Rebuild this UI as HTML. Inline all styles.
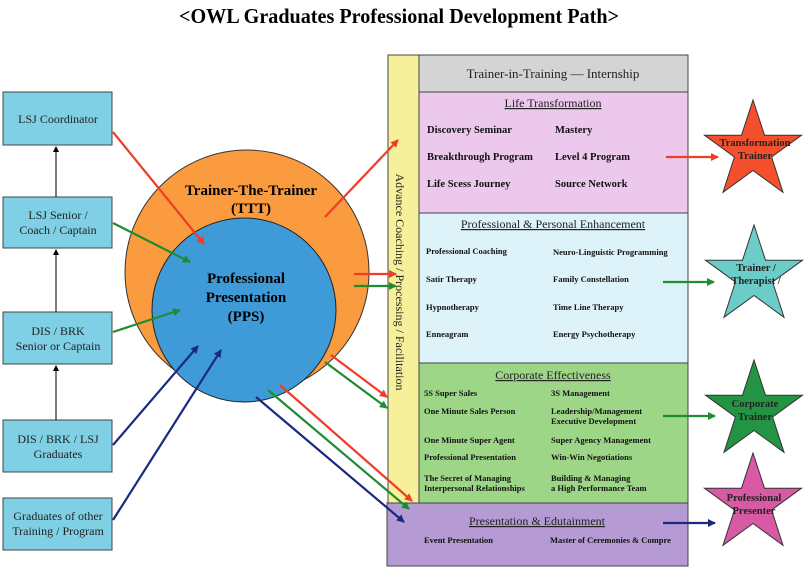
<!DOCTYPE html>
<html><head><meta charset="utf-8"><style>
body{margin:0;background:#fff;}
svg{display:block;font-family:"Liberation Serif",serif;}
.b{font-weight:bold;font-size:10.5px;fill:#111}
.s{font-weight:bold;font-size:8.5px;fill:#111}
.h{font-size:12px;fill:#222;text-decoration:underline}
</style></head><body>
<svg width="810" height="581" viewBox="0 0 810 581" xmlns="http://www.w3.org/2000/svg">
<defs>
<marker id="mr" markerWidth="8" markerHeight="8" refX="7" refY="4" orient="auto" markerUnits="userSpaceOnUse"><path d="M0,0L8,4L0,8z" fill="#f03c28"/></marker>
<marker id="mg" markerWidth="8" markerHeight="8" refX="7" refY="4" orient="auto" markerUnits="userSpaceOnUse"><path d="M0,0L8,4L0,8z" fill="#1e8c32"/></marker>
<marker id="mb" markerWidth="8" markerHeight="8" refX="7" refY="4" orient="auto" markerUnits="userSpaceOnUse"><path d="M0,0L8,4L0,8z" fill="#1a2a80"/></marker>
<marker id="mk" markerWidth="6" markerHeight="6" refX="5" refY="3" orient="auto" markerUnits="userSpaceOnUse"><path d="M0,0L6,3L0,6z" fill="#000"/></marker>
</defs>
<text x="399" y="23" text-anchor="middle" font-weight="bold" font-size="21" textLength="440" lengthAdjust="spacingAndGlyphs">&lt;OWL Graduates Professional Development Path&gt;</text>

<rect x="388" y="55" width="31" height="448" fill="#f7f09a" stroke="#444"/>
<rect x="419" y="55" width="269" height="37" fill="#d4d4d4" stroke="#444"/>
<rect x="419" y="92" width="269" height="121" fill="#ecc8ec" stroke="#444"/>
<rect x="419" y="213" width="269" height="150" fill="#def2fa" stroke="#444"/>
<rect x="419" y="363" width="269" height="140" fill="#9ed688" stroke="#444"/>
<rect x="387" y="503" width="301" height="63" fill="#b59ad4" stroke="#444"/>
<text transform="translate(396,282) rotate(90)" text-anchor="middle" font-size="12" fill="#222">Advance Coaching / Processing / Facilitation</text>
<text x="553" y="78" text-anchor="middle" font-size="13" fill="#222">Trainer-in-Training  —  Internship</text>
<text x="553" y="107" text-anchor="middle" class="h">Life Transformation</text>
<text x="427" y="133" class="b">Discovery Seminar</text><text x="555" y="133" class="b">Mastery</text>
<text x="427" y="160" class="b">Breakthrough Program</text><text x="555" y="160" class="b">Level 4 Program</text>
<text x="427" y="187" class="b">Life Scess Journey</text><text x="555" y="187" class="b">Source Network</text>
<text x="553" y="228" text-anchor="middle" class="h">Professional &amp; Personal Enhancement</text>
<text x="426" y="254" class="s">Professional Coaching</text><text x="553" y="255" class="s">Neuro-Linguistic Programming</text>
<text x="426" y="282" class="s">Satir Therapy</text><text x="553" y="282" class="s">Family Constellation</text>
<text x="426" y="310" class="s">Hypnotherapy</text><text x="553" y="310" class="s">Time Line Therapy</text>
<text x="426" y="337" class="s">Enneagram</text><text x="553" y="337" class="s">Energy Psychotherapy</text>
<text x="553" y="379" text-anchor="middle" class="h">Corporate Effectiveness</text>
<text x="424" y="396" class="s">5S Super Sales</text><text x="551" y="396" class="s">3S Management</text>
<text x="424" y="414" class="s">One Minute Sales Person</text><text x="551" y="414" class="s">Leadership/Management</text><text x="551" y="424" class="s">Executive Development</text>
<text x="424" y="443" class="s">One Minute Super Agent</text><text x="551" y="443" class="s">Super Agency Management</text>
<text x="424" y="460" class="s">Professional Presentation</text><text x="551" y="460" class="s">Win-Win Negotiations</text>
<text x="424" y="481" class="s">The Secret of Managing</text><text x="551" y="481" class="s">Building &amp; Managing</text>
<text x="424" y="491" class="s">Interpersonal Relationships</text><text x="551" y="491" class="s">a High Performance Team</text>
<text x="537" y="525" text-anchor="middle" class="h">Presentation &amp; Edutainment</text>
<text x="424" y="543" class="s">Event Presentation</text><text x="550" y="543" class="s">Master of Ceremonies &amp; Compre</text>

<g fill="#7fd0e4" stroke="#444">
<rect x="3" y="92" width="109" height="53"/>
<rect x="3" y="197" width="109" height="51"/>
<rect x="3" y="312" width="109" height="52"/>
<rect x="3" y="420" width="109" height="52"/>
<rect x="3" y="498" width="109" height="52"/>
</g>
<g font-size="12" fill="#222" text-anchor="middle">
<text x="58" y="123">LSJ Coordinator</text>
<text x="58" y="219">LSJ Senior /</text><text x="58" y="234">Coach / Captain</text>
<text x="58" y="335">DIS / BRK</text><text x="58" y="350">Senior or Captain</text>
<text x="58" y="443">DIS / BRK / LSJ</text><text x="58" y="458">Graduates</text>
<text x="58" y="520">Graduates of other</text><text x="58" y="535">Training / Program</text>
</g>
<g stroke="#000" stroke-width="1" marker-end="url(#mk)">
<line x1="56" y1="197" x2="56" y2="147"/>
<line x1="56" y1="312" x2="56" y2="250"/>
<line x1="56" y1="420" x2="56" y2="366"/>
</g>

<circle cx="247" cy="272" r="122" fill="#f99b3e" stroke="#333"/>
<circle cx="244" cy="310" r="92" fill="#3f9ad8" stroke="#222"/>
<text x="251" y="195" text-anchor="middle" font-weight="bold" font-size="15">Trainer-The-Trainer</text>
<text x="251" y="213" text-anchor="middle" font-weight="bold" font-size="15">(TTT)</text>
<text x="246" y="283" text-anchor="middle" font-weight="bold" font-size="15">Professional</text>
<text x="246" y="302" text-anchor="middle" font-weight="bold" font-size="15">Presentation</text>
<text x="246" y="321" text-anchor="middle" font-weight="bold" font-size="15">(PPS)</text>

<g stroke-width="2.2" fill="none">
<line x1="113" y1="132" x2="204" y2="244" stroke="#f03c28" marker-end="url(#mr)"/>
<line x1="113" y1="223" x2="190" y2="262" stroke="#1e8c32" marker-end="url(#mg)"/>
<line x1="113" y1="332" x2="180" y2="310" stroke="#1e8c32" marker-end="url(#mg)"/>
<line x1="113" y1="445" x2="198" y2="346" stroke="#1a2a80" marker-end="url(#mb)"/>
<line x1="113" y1="520" x2="221" y2="350" stroke="#1a2a80" marker-end="url(#mb)"/>
<line x1="325" y1="217" x2="398" y2="140" stroke="#f03c28" marker-end="url(#mr)"/>
<line x1="354" y1="274" x2="396" y2="274" stroke="#f03c28" marker-end="url(#mr)"/>
<line x1="354" y1="286" x2="396" y2="286" stroke="#1e8c32" marker-end="url(#mg)"/>
<line x1="331" y1="355" x2="387" y2="397" stroke="#f03c28" marker-end="url(#mr)"/>
<line x1="325" y1="362" x2="387" y2="408" stroke="#1e8c32" marker-end="url(#mg)"/>
<line x1="280" y1="385" x2="412" y2="501" stroke="#f03c28" marker-end="url(#mr)"/>
<line x1="268" y1="390" x2="409" y2="509" stroke="#1e8c32" marker-end="url(#mg)"/>
<line x1="256" y1="397" x2="404" y2="522" stroke="#1a2a80" marker-end="url(#mb)"/>
<line x1="666" y1="157" x2="718" y2="157" stroke="#f03c28" marker-end="url(#mr)"/>
<line x1="663" y1="282" x2="714" y2="282" stroke="#1e8c32" marker-end="url(#mg)"/>
<line x1="663" y1="416" x2="715" y2="416" stroke="#1e8c32" marker-end="url(#mg)"/>
<line x1="663" y1="523" x2="715" y2="523" stroke="#1a2a80" marker-end="url(#mb)"/>
</g>

<g stroke="#333" stroke-width="1">
<polygon transform="translate(753,151)" fill="#f5502d" points="0,-51 11.5,-15.8 48.5,-15.8 18.6,6 30,41.3 0,19.5 -30,41.3 -18.6,6 -48.5,-15.8 -11.5,-15.8"/>
<polygon transform="translate(754,276)" fill="#6ccdc8" points="0,-51 11.5,-15.8 48.5,-15.8 18.6,6 30,41.3 0,19.5 -30,41.3 -18.6,6 -48.5,-15.8 -11.5,-15.8"/>
<polygon transform="translate(754,411)" fill="#239443" points="0,-51 11.5,-15.8 48.5,-15.8 18.6,6 30,41.3 0,19.5 -30,41.3 -18.6,6 -48.5,-15.8 -11.5,-15.8"/>
<polygon transform="translate(753,504)" fill="#d85aa4" points="0,-51 11.5,-15.8 48.5,-15.8 18.6,6 30,41.3 0,19.5 -30,41.3 -18.6,6 -48.5,-15.8 -11.5,-15.8"/>
</g>
<g font-weight="bold" font-size="10.5" fill="#222" text-anchor="middle">
<text x="755" y="146">Transformation</text><text x="755" y="159">Trainer</text>
<text x="756" y="271">Trainer /</text><text x="756" y="284">Therapist /</text>
<text x="755" y="407">Corporate</text><text x="755" y="420">Trainer</text>
<text x="754" y="501">Professional</text><text x="754" y="514">Presenter</text>
</g>
</svg>
</body></html>
